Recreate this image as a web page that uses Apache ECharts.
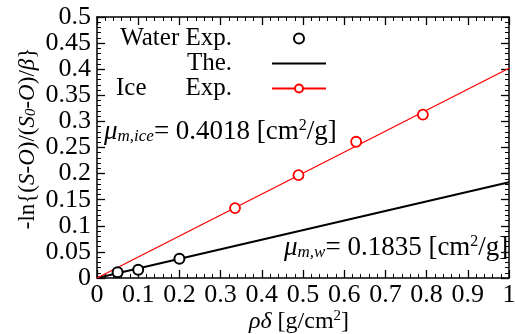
<!DOCTYPE html>
<html>
<head>
<meta charset="utf-8">
<script src="https://cdn.jsdelivr.net/npm/echarts@6/dist/echarts.min.js"></script>
<style>
  html, body { margin: 0; padding: 0; background: #fff; }
  #main { width: 515px; height: 334px; }
</style>
</head>
<body>
<div id="main"></div>
<script>
// data
var waterX = [0.05, 0.1, 0.2];
var waterY = [0.011, 0.016, 0.037];
var iceX = [0.335, 0.489, 0.629, 0.791];
var iceY = [0.134, 0.197, 0.261, 0.313];
var muWater = 0.1835;   // slope of the theory line
var muIce = 0.4018;     // slope of the ice fit line
var fitX = [0, 1];

var FONT = 'Liberation Serif';
var FS = 26;

function pairs(xs, ys) {
    var out = [];
    for (var i = 0; i < xs.length; i++) out.push([xs[i], ys[i]]);
    return out;
}
function lineOf(slope) {
    return fitX.map(function (x) { return [x, slope * x]; });
}

var ticks = { show: true, inside: true, length: 8, lineStyle: { color: '#000', width: 1.3 } };
var minor = { show: true, splitNumber: 5, length: 4, lineStyle: { color: '#000', width: 1 } };
var line = { show: true, onZero: false, lineStyle: { color: '#000', width: 1.5 } };
var noSplit = { lineStyle: { opacity: 0 } };
var box = { left: 97, right: 6, top: 17, bottom: 56, outerBoundsMode: 'none', containLabel: false };

var myChart = echarts.init(document.getElementById('main'));

var option = {
    animation: false,
    backgroundColor: '#fff',
    // second grid on top of the first only carries the mirrored top/right axes
    grid: [box, box],
    xAxis: [{
        type: 'value', gridIndex: 0, min: 0, max: 1, interval: 0.1,
        axisLine: line, axisTick: ticks, minorTick: minor, splitLine: noSplit,
        axisLabel: { color: '#000', fontFamily: FONT, fontSize: FS, margin: 4, showMinLabel: true, showMaxLabel: true, hideOverlap: false },
        name: '{i|ρδ} [g/cm{sup|2}]',
        nameLocation: 'middle',
        nameGap: 31,
        nameMoveOverlap: false,
        nameTextStyle: {
            color: '#000', fontFamily: FONT, fontSize: 24, padding: [0, 8, 0, 0],
            rich: {
                i: { fontFamily: FONT, fontSize: 24, fontStyle: 'italic', color: '#000' },
                sup: { fontFamily: FONT, fontSize: 15, color: '#000', verticalAlign: 'top', padding: [0, 0, 10, 0] }
            }
        }
    }, {
        type: 'value', gridIndex: 1, position: 'top', min: 0, max: 1, interval: 0.1,
        axisLine: line, axisTick: ticks, minorTick: minor, splitLine: noSplit,
        axisLabel: { show: false }
    }],
    yAxis: [{
        type: 'value', gridIndex: 0, min: 0, max: 0.5, interval: 0.05,
        axisLine: line, axisTick: ticks, minorTick: minor, splitLine: noSplit,
        axisLabel: { color: '#000', fontFamily: FONT, fontSize: FS, margin: 6, showMinLabel: true, showMaxLabel: true, hideOverlap: false },
        name: '-ln{({i|S}-{i|O})/({i|S}{sub|0}-{i|O})/{i|β}}',
        nameLocation: 'middle',
        nameGap: 58,
        nameMoveOverlap: false,
        nameTextStyle: {
            color: '#000', fontFamily: FONT, fontSize: 23, padding: [0, 0, 0, 18],
            rich: {
                i: { fontFamily: FONT, fontSize: 23, fontStyle: 'italic', color: '#000' },
                sub: { fontFamily: FONT, fontSize: 15, fontStyle: 'italic', color: '#000', verticalAlign: 'bottom', padding: [8, 0, 0, 0] }
            }
        }
    }, {
        type: 'value', gridIndex: 1, position: 'right', min: 0, max: 0.5, interval: 0.05,
        axisLine: line, axisTick: ticks, minorTick: minor, splitLine: noSplit,
        axisLabel: { show: false }
    }],
    legend: {
        orient: 'vertical',
        left: 116,
        top: 26,
        padding: 0,
        align: 'right',
        itemWidth: 54,
        itemHeight: 10,
        itemGap: 0,
        data: [
            { name: 'Water Exp.' },
            { name: 'The.', itemStyle: { opacity: 0 } },
            { name: 'Ice Exp.' }
        ],
        formatter: function (name) {
            if (name === 'Ice Exp.') return '{l|Ice}{r|Exp.}{s|}';
            return '{a|' + name + '}{s|}';
        },
        textStyle: {
            color: '#000', fontFamily: FONT, fontSize: 25,
            rich: {
                a: { fontFamily: FONT, fontSize: 25, width: 116, align: 'right', lineHeight: 25 },
                l: { fontFamily: FONT, fontSize: 25, width: 60, align: 'left', lineHeight: 25 },
                r: { fontFamily: FONT, fontSize: 25, width: 56, align: 'right', lineHeight: 25 },
                s: { width: 35 }
            }
        }
    },
    graphic: [
        {
            type: 'text', left: 104, top: 118,
            style: {
                text: '{i|μ}{sub|m,ice}= 0.4018 [cm{sup|2}/g]',
                fontFamily: FONT, fontSize: 27, fill: '#000',
                rich: {
                    i: { fontFamily: FONT, fontSize: 27, fontStyle: 'italic' },
                    sub: { fontFamily: FONT, fontSize: 17, fontStyle: 'italic', verticalAlign: 'bottom', padding: [9, 0, 0, 0] },
                    sup: { fontFamily: FONT, fontSize: 16, verticalAlign: 'top', padding: [0, 0, 11, 0] }
                }
            }
        },
        {
            type: 'text', left: 284, top: 234,
            style: {
                text: '{i|μ}{sub|m,w}= 0.1835 [cm{sup|2}/g]',
                fontFamily: FONT, fontSize: 27, fill: '#000',
                rich: {
                    i: { fontFamily: FONT, fontSize: 27, fontStyle: 'italic' },
                    sub: { fontFamily: FONT, fontSize: 17, fontStyle: 'italic', verticalAlign: 'bottom', padding: [9, 0, 0, 0] },
                    sup: { fontFamily: FONT, fontSize: 16, verticalAlign: 'top', padding: [0, 0, 11, 0] }
                }
            }
        }
    ],
    series: [
        {
            name: 'The.',
            type: 'line',
            xAxisIndex: 0, yAxisIndex: 0,
            data: lineOf(muWater),
            symbol: 'none',
            lineStyle: { color: '#000', width: 2 },
            itemStyle: { color: '#000' },
            z: 3
        },
        {
            name: 'Ice Exp.',
            type: 'line',
            xAxisIndex: 0, yAxisIndex: 0,
            data: lineOf(muIce),
            symbol: 'emptyCircle',
            symbolSize: 9,
            showSymbol: false,
            lineStyle: { color: '#ff0000', width: 1.3 },
            itemStyle: { color: '#ff0000', borderColor: '#ff0000', borderWidth: 1.8 },
            z: 3
        },
        {
            name: 'Water Exp.',
            type: 'scatter',
            xAxisIndex: 0, yAxisIndex: 0,
            data: pairs(waterX, waterY),
            symbol: 'circle',
            symbolSize: 10,
            itemStyle: { color: '#fff', borderColor: '#000', borderWidth: 2, opacity: 1 },
            z: 4
        },
        {
            // same scale as grid 0, drawn on the mirrored axes
            name: 'Ice points',
            type: 'scatter',
            xAxisIndex: 1, yAxisIndex: 1,
            data: pairs(iceX, iceY),
            symbol: 'circle',
            symbolSize: 10,
            itemStyle: { color: '#fff', borderColor: '#ff0000', borderWidth: 1.8, opacity: 1 },
            z: 4
        }
    ]
};

myChart.setOption(option);
</script>
</body>
</html>
